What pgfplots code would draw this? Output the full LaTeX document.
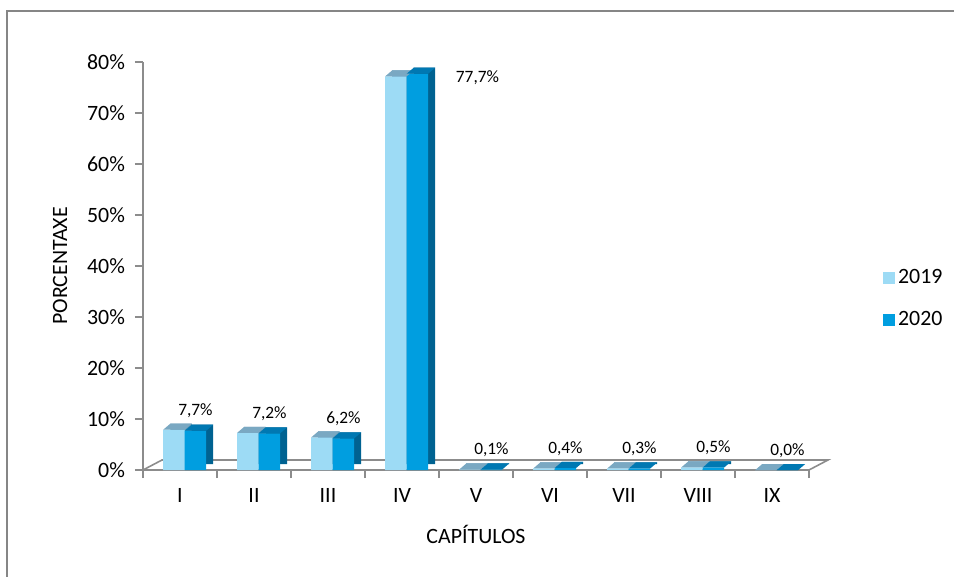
\documentclass[border=0pt]{standalone}
\usepackage{fontspec}
\setmainfont{Carlito}
\usepackage{pgfplots}
\usepackage{pgfplotstable}
\pgfplotsset{compat=1.18}

\definecolor{c19}{RGB}{157,219,245}
\definecolor{c19top}{RGB}{122,168,194}
\definecolor{c19side}{RGB}{96,150,180}
\definecolor{c20}{RGB}{0,158,224}
\definecolor{c20top}{RGB}{0,120,178}
\definecolor{c20side}{RGB}{0,98,145}
\definecolor{axgray}{RGB}{140,140,140}
\definecolor{framegray}{RGB}{134,134,134}

\newcommand{\mainfs}{\fontsize{16.4pt}{19pt}\selectfont}
\newcommand{\labfs}{\fontsize{13pt}{15pt}\selectfont}

% top face of a 3D bar: bar width 16.125pt, depth (5.25pt,4.5pt)
\pgfdeclareplotmark{topface}{%
  \pgfpathmoveto{\pgfpoint{-8.06pt}{0pt}}%
  \pgfpathlineto{\pgfpoint{8.06pt}{0pt}}%
  \pgfpathlineto{\pgfpoint{13.31pt}{4.5pt}}%
  \pgfpathlineto{\pgfpoint{-2.81pt}{4.5pt}}%
  \pgfpathclose
  \pgfusepathqfill}

\pgfplotstableread{
x y19 y20
0 7.9 7.7
1 7.3 7.2
2 6.4 6.2
3 77.2 77.7
4 0.1 0.1
5 0.3 0.4
6 0.3 0.3
7 0.5 0.5
8 0.0 0.0
}\datatable

\begin{document}
\begin{tikzpicture}
\useasboundingbox (0pt,0pt) rectangle (715.5pt,-432.75pt);
\draw[framegray, line width=1.5pt] (5.25pt,-440pt) -- (5.25pt,-8.25pt) -- (720pt,-8.25pt);
\begin{axis}[
    at={(107.25pt,-352.5pt)}, anchor=south west,
    scale only axis, width=499.5pt, height=306pt,
    xmin=-0.5, xmax=8.5, ymin=0, ymax=80,
    axis x line*=bottom, axis y line*=left,
    axis line style={axgray, line width=1.2pt, -},
    /pgf/number format/assume math mode=true,
    xtick={0,...,8},
    xticklabels={I,II,III,IV,V,VI,VII,VIII,IX},
    minor xtick={-0.5,0.5,...,8.5},
    major x tick style={draw=none},
    minor x tick style={axgray, line width=1pt},
    ytick={0,10,...,80},
    yticklabel={\pgfmathprintnumber{\tick}\%},
    y tick style={axgray, line width=1pt},
    tick align=outside, major tick length=6pt, minor tick length=6pt,
    tick label style={font=\mainfs, black},
    xticklabel style={yshift=-4pt},
    yticklabel style={xshift=-4pt},
    xlabel={CAPÍTULOS},
    xlabel style={at={(axis description cs:0.5,-0.159)}, anchor=center, font=\mainfs},
    ylabel={PORCENTAXE},
    ylabel style={at={(axis description cs:-0.1246,0.5)}, anchor=center, font=\mainfs},
    legend style={draw=none, fill=none, font=\mainfs,
        at={(axis description cs:1.111,0.42)}, anchor=west,
        row sep=15pt, inner sep=0pt, nodes={inner sep=2.2pt}},
    legend cell align=left,
    legend image code/.code={\draw[#1, draw=none] (0pt,-4.5pt) rectangle (9pt,4.5pt);},
    clip=false,
]
% floor of the 3D chart
\draw[axgray, line width=1.2pt] (axis cs:-0.5,0) -- ++(14.25pt,7.5pt)
    -- ([shift={(14.25pt,7.5pt)}]axis cs:8.5,0) -- (axis cs:8.5,0);

% 2019
\addplot[ybar, bar width=16.125pt, bar shift=0pt, fill=c19side, draw=none,
    xshift=0.75pt, yshift=4.5pt, forget plot] table[x=x, y=y19] {\datatable};
\addplot[ybar, bar width=16.125pt, bar shift=0pt, fill=c19, draw=none,
    xshift=-4.5pt, forget plot] table[x=x, y=y19] {\datatable};
\addplot[only marks, mark=topface, mark options={fill=c19top, draw=none},
    xshift=-4.5pt, forget plot] table[x=x, y=y19] {\datatable};

% 2020
\addplot[ybar, bar width=16.125pt, bar shift=0pt, fill=c20side, draw=none,
    xshift=16.85pt, yshift=4.5pt, forget plot] table[x=x, y=y20] {\datatable};
\addplot[ybar, bar width=16.125pt, bar shift=0pt, fill=c20, draw=none,
    xshift=11.6pt, forget plot,
    nodes near coords={\pgfmathprintnumber[fixed, fixed zerofill, precision=1, use comma]{\pgfplotspointmeta}\%},
    every node near coord/.append style={font=\labfs, black, anchor=south, yshift=6pt},
    coordinate style/.condition={x==3}{anchor=center, xshift=45pt, yshift=-18pt},
    ] table[x=x, y=y20] {\datatable};
\addplot[only marks, mark=topface, mark options={fill=c20top, draw=none},
    xshift=11.6pt, forget plot] table[x=x, y=y20] {\datatable};

\addlegendimage{fill=c19}
\addlegendentry{2019}
\addlegendimage{fill=c20}
\addlegendentry{2020}
\end{axis}
\end{tikzpicture}
\end{document}
